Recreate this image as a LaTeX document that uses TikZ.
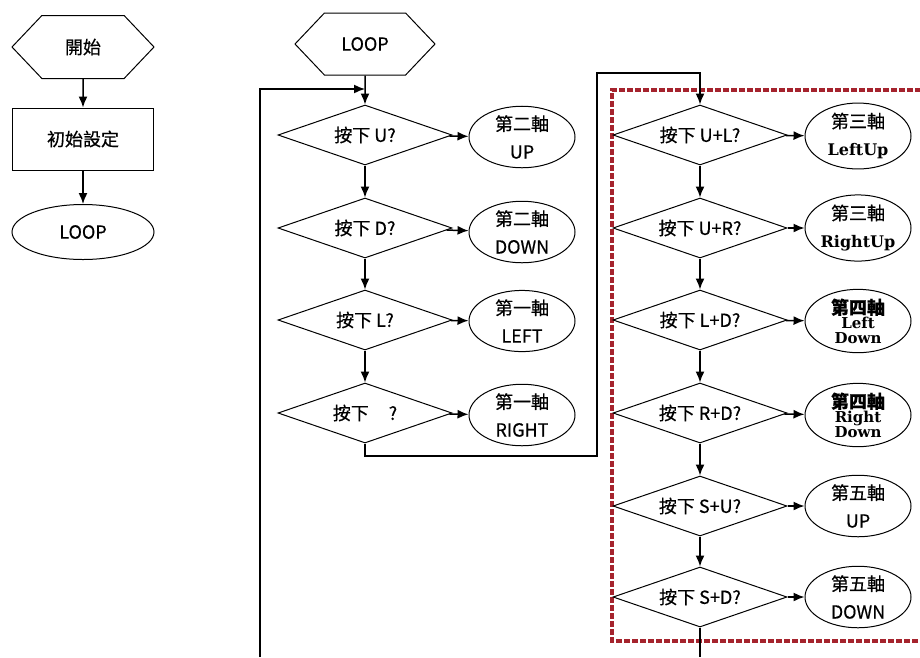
\documentclass[tikz,border=0pt]{standalone}
\usepackage{fontspec}
\setmainfont{Noto Sans CJK TC}[FakeBold=0.5]
\newfontfamily\romanfont{DejaVu Serif}
\newcommand\romanbf{\romanfont\bfseries\fontsize{16}{28}\selectfont}
\usetikzlibrary{shapes.geometric,shapes.symbols,arrows.meta}
\definecolor{boxred}{RGB}{165,35,45}
\tikzset{
  box/.style={draw, line width=1pt, inner sep=0pt, align=center, font=\fontsize{18}{28}\selectfont},
  hexa/.style={box, signal, signal to=east and west, signal pointer angle=93, minimum width=142pt, minimum height=63pt},
  proc/.style={box, rectangle, minimum width=141pt, minimum height=62pt},
  term/.style={box, ellipse, minimum width=142pt, minimum height=55pt},
  test/.style={box, diamond, aspect=2.9, minimum width=174pt, minimum height=60pt},
  axis/.style={box, ellipse, minimum width=106pt, minimum height=54pt},
  axistwo/.style={axis, font=\romanfont\bfseries\fontsize{15}{14.5}\selectfont},
  arr/.style={line width=1.5pt, -{Latex[length=11pt,width=9pt]}},
  wire/.style={line width=1.5pt},
  redbox/.style={draw=boxred, line width=3.5pt, dash pattern=on 6pt off 2pt}
}
\begin{document}
\begin{tikzpicture}[x=1pt,y=-1pt]
        \useasboundingbox (0,0) rectangle (920,657);
        % start
            \node[hexa] (start) at (83,47) {開始};
            \node[proc] (init) at (83,139) {初始設定};
            \node[term] (loop0) at (83,232) {LOOP};
            \draw[arr] (start) -- (init);
            \draw[arr] (init) -- (loop0);
        % loop, single keys
            \node[hexa, minimum width=140pt, minimum height=62pt] (loop) at (365,44) {LOOP};
            \foreach \n/\y/\q/\t in {u/135/按下 U?/UP, d/228/按下 D?/DOWN, l/320/按下 L?/LEFT, r/413/按下\hspace{1.1em}?/RIGHT}{
                \node[test] (\n) at (365,\y) {\q};
            }
            \foreach \n/\y/\a/\t in {u/137/第二軸/UP, d/232/第二軸/DOWN, l/321/第一軸/LEFT, r/415/第一軸/RIGHT}{
                \node[axis] (\n x) at (522,\y) {\a\\\t};
                \draw[arr] (\n) -- (\n x);
            }
            \foreach \a/\b in {loop/u, u/d, d/l, l/r}{
                \draw[arr] (\a) -- (\b);
            }
        % key combinations
            \draw[redbox] (921,90) -| (612,641) -- (921,641);
            \foreach \n/\y/\q in {ul/135/按下 U+L?, ur/228/按下 U+R?, ld/320/按下 L+D?, rd/413/按下 R+D?, su/506/按下 S+U?, sd/597/按下 S+D?}{
                \node[test] (\n) at (700,\y) {\q};
            }
            \foreach \n/\y/\s/\t in {ul/136/axis/第三軸\\{\romanbf LeftUp},
                                     ur/228/axis/第三軸\\{\romanbf RightUp},
                                     ld/321/axistwo/{\rmfamily\fontsize{18}{14.5}\selectfont 第四軸}\\Left\\Down,
                                     rd/415/axistwo/{\rmfamily\fontsize{18}{14.5}\selectfont 第四軸}\\Right\\Down,
                                     su/506/axis/第五軸\\UP,
                                     sd/597/axis/第五軸\\DOWN}{
                \node[\s] (\n x) at (858,\y) {\t};
                \draw[arr] (\n) -- (\n x);
            }
            \foreach \a/\b in {ul/ur, ur/ld, ld/rd, rd/su, su/sd}{
                \draw[arr] (\a) -- (\b);
            }
        % loop back
            \coordinate (join) at (365,89);
            \coordinate (back) at (260,657);
            \coordinate (c1) at (597,456);
            \coordinate (c2) at (597,73);
            \coordinate (end) at (700,657);
            \draw[arr] (back) |- (join);
            \draw[arr] (r.south) |- (c1) -- (c2) -| (ul.north);
            \draw[wire] (sd.south) -- (end);
        \end{tikzpicture}
\end{document}
